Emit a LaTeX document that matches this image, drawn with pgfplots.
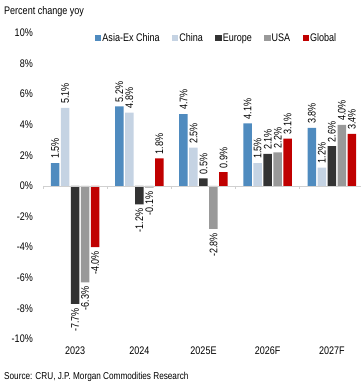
\documentclass[border=0pt]{standalone}
\usepackage{pgfplots}
\pgfplotsset{compat=1.18}
\usepackage{graphicx}
\usepackage{fontspec}
\setmainfont{Liberation Sans}[FakeStretch=0.82]
\definecolor{asia}{HTML}{4F8BBF}
\definecolor{china}{HTML}{C5D3E3}
\definecolor{europe}{HTML}{333333}
\definecolor{usa}{HTML}{999999}
\definecolor{glob}{HTML}{C00000}
\definecolor{axisgray}{HTML}{D0D0D0}
\newcommand\f{\fontsize{11bp}{13bp}\selectfont}
\begin{document}
\begin{tikzpicture}
\useasboundingbox (0,0) rectangle (361bp,389bp);
\node[anchor=west, inner sep=0pt, font=\f] at (4bp,377bp) {Percent change yoy};
\node[anchor=west, inner sep=0pt, font=\fontsize{10bp}{12bp}\selectfont] at (4bp,12bp) {Source: CRU, J.P. Morgan Commodities Research};
\begin{axis}[
  at={(43bp,50bp)}, anchor=south west,
  scale only axis, width=321bp, height=306bp,
  ybar=1.5bp, bar width=8.5bp,
  xmin=-0.5, xmax=4.5, ymin=-10, ymax=10,
  clip=false,
  xtick={0,1,2,3,4},
  xticklabels={2023,2024,2025E,2026F,2027F},
  ytick={-10,-8,...,10},
  major tick length=0pt,
  tick style={draw=none},
  /pgf/number format/assume math mode=true,
  yticklabel={\pgfmathprintnumber{\tick}\%},
  ticklabel style={font=\f},
  yticklabel style={anchor=east, inner sep=0pt, xshift=-10bp},
  xticklabel style={anchor=north, inner sep=0pt, yshift=-8bp},
  axis line style={draw=none},
  nodes near coords={\rotatebox{90}{\pgfmathprintnumber[fixed,fixed zerofill,precision=1]{\pgfplotspointmeta}\%}},
  nodes near coords align={vertical},
  every node near coord/.append style={font=\f, inner xsep=0pt, inner ysep=4bp},
  legend columns=-1,
  legend style={at={(rel axis cs:0.152,0.983)}, anchor=west, draw=none, fill=none,
     font=\f, nodes={inner xsep=1bp, inner ysep=0.5bp},
     /tikz/every even column/.append style={column sep=11.3bp}},
  legend image code/.code={\fill[#1] (0bp,-3bp) rectangle (6.5bp,3.5bp);},
]
\addplot[fill=asia, draw=none] coordinates {(0,1.5) (1,5.2) (2,4.7) (3,4.1) (4,3.8)};
\addplot[fill=china, draw=none] coordinates {(0,5.1) (1,4.8) (2,2.5) (3,1.5) (4,1.2)};
\addplot[fill=europe, draw=none] coordinates {(0,-7.7) (1,-1.2) (2,0.5) (3,2.1) (4,2.6)};
\addplot[fill=usa, draw=none] coordinates {(0,-6.3) (1,-0.1) (2,-2.8) (3,2.2) (4,4.0)};
\addplot[fill=glob, draw=none] coordinates {(0,-4.0) (1,1.8) (2,0.9) (3,3.1) (4,3.4)};
\legend{Asia-Ex China,China,Europe,USA,Global}
\draw[axisgray, line width=0.8bp] (axis cs:-0.5,0) -- (axis cs:4.5,0);
\draw[axisgray, line width=0.8bp] (axis cs:-0.5,0) -- ([yshift=-3bp]axis cs:-0.5,0);
\draw[axisgray, line width=0.8bp] (axis cs:0.5,0) -- ([yshift=-3bp]axis cs:0.5,0);
\draw[axisgray, line width=0.8bp] (axis cs:1.5,0) -- ([yshift=-3bp]axis cs:1.5,0);
\draw[axisgray, line width=0.8bp] (axis cs:2.5,0) -- ([yshift=-3bp]axis cs:2.5,0);
\draw[axisgray, line width=0.8bp] (axis cs:3.5,0) -- ([yshift=-3bp]axis cs:3.5,0);
\end{axis}
\end{tikzpicture}
\end{document}
